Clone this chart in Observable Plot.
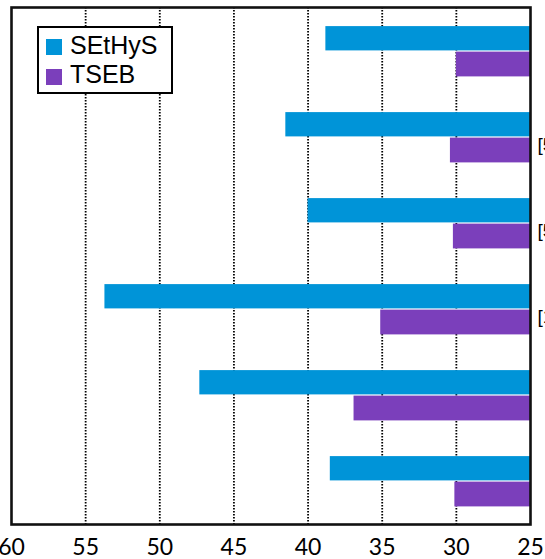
<!DOCTYPE html>
<html>
<head>
<meta charset="utf-8">
<script src="https://cdn.jsdelivr.net/npm/d3@7"></script>
<script src="https://cdn.jsdelivr.net/npm/@observablehq/plot@0.6"></script>
<style>
  html, body { margin: 0; padding: 0; background: #fff; }
  #wrap { position: relative; width: 545px; height: 559px; overflow: hidden; }
  #legend { position: absolute; left: 37px; top: 26px; width: 136px; height: 68px; box-sizing: border-box;
            border: 2px solid #000; background: #fff; font-family: "Liberation Sans", Arial, sans-serif; }
  .sw { position: absolute; left: 7px; width: 16px; height: 16px; }
  .lt { position: absolute; left: 31px; font-size: 25px; line-height: 25px; color: #000; white-space: nowrap; }
</style>
</head>
<body>
<div id="wrap"></div>
<script>
// ---- data ----
const groups = ["G1", "G2", "G3", "G4", "G5", "G6"];
const seriesNames = ["SEtHyS", "TSEB"];
const sethysValues = [38.8, 41.5, 40.0, 53.7, 47.3, 38.5];
const tsebValues = [30.0, 30.4, 30.2, 35.1, 36.9, 30.1];
const sideLabels = ["", "[5]", "[5]", "[1]", "", ""];
const xTicks = [60, 55, 50, 45, 40, 35, 30, 25];
const gridTicks = [55, 50, 45, 40, 35, 30];
const colors = ["#0094d8", "#7b3fbb"];
const xBase = 25;

const sethysRows = groups.map((g, i) => ({group: g, value: sethysValues[i]}));
const tsebRows = groups.map((g, i) => ({group: g, value: tsebValues[i]}));
const labelRows = groups.map((g, i) => ({group: g, label: sideLabels[i]})).filter(d => d.label);

const chart = Plot.plot({
  width: 545,
  height: 559,
  marginLeft: 11,
  marginRight: 15,
  marginTop: 7,
  marginBottom: 35,
  style: {fontFamily: "Lato, 'Open Sans', sans-serif", background: "#fff", overflow: "visible"},
  x: {domain: [60, 25], axis: null, label: null},
  y: {domain: groups, padding: 0, axis: null},
  marks: [
    Plot.gridX(gridTicks, {stroke: "#000", strokeOpacity: 1, strokeWidth: 1.8, strokeDasharray: "1.5,1.5"}),
    Plot.barX(sethysRows, {y: "group", x1: xBase, x2: "value", fill: colors[0], insetTop: 18.1, insetBottom: 43.6}),
    Plot.barX(tsebRows, {y: "group", x1: xBase, x2: "value", fill: colors[1], insetTop: 43.6, insetBottom: 17.6}),
    Plot.frame({stroke: "#111", strokeWidth: 2.6}),
    Plot.axisX(xTicks, {tickSize: 0, tickPadding: 14, fontSize: 23, label: null, tickFormat: d => String(d), color: "#000"}),
    Plot.text(labelRows, {y: "group", x: xBase, text: "label", textAnchor: "start", dx: 7, dy: 7,
      fontSize: 19, fontFamily: "Liberation Sans, Arial, sans-serif", fill: "#000"})
  ]
});

const wrap = document.getElementById("wrap");
wrap.appendChild(chart);

// legend (inside the plot area, as in the reference)
const legend = document.createElement("div");
legend.id = "legend";
seriesNames.forEach((name, i) => {
  const sw = document.createElement("div");
  sw.className = "sw";
  sw.style.top = (11 + i * 30) + "px";
  sw.style.background = colors[i];
  legend.appendChild(sw);
  const t = document.createElement("span");
  t.className = "lt";
  t.style.top = (5 + i * 29) + "px";
  t.textContent = name;
  legend.appendChild(t);
});
wrap.appendChild(legend);
</script>
</body>
</html>
